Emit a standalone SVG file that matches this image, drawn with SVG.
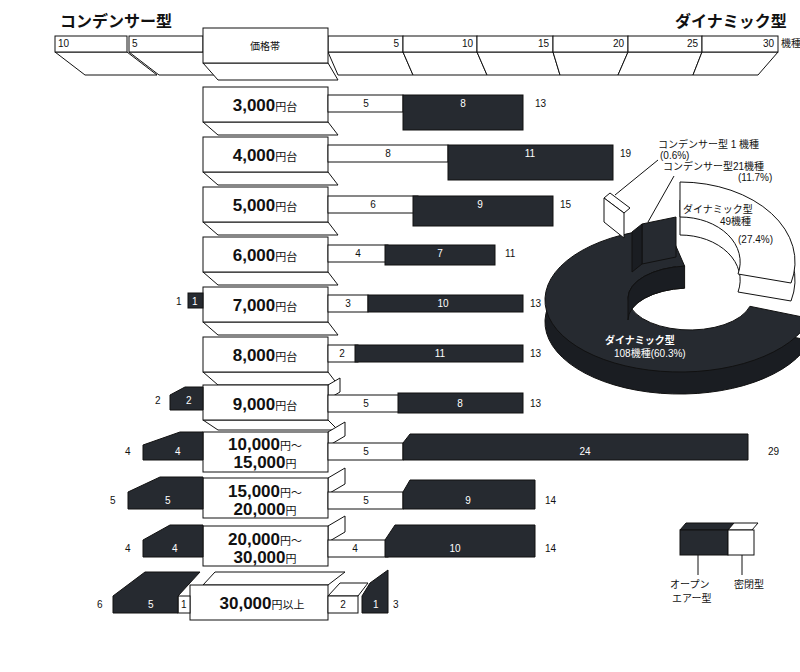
<svg xmlns="http://www.w3.org/2000/svg" width="800" height="672" viewBox="0 0 800 672">
<style>
.w{fill:#fff;stroke:#111;stroke-width:1}
.d{fill:#262a30;stroke:#111;stroke-width:1}
.ds{fill:#1a1d22;stroke:#111;stroke-width:1}
.t{font-family:"Liberation Sans","Noto Sans CJK JP",sans-serif;font-size:10px;fill:#111}
.tw{font-family:"Liberation Sans","Noto Sans CJK JP",sans-serif;font-size:10px;fill:#fff}
.big{font-family:"Liberation Sans","Noto Sans CJK JP",sans-serif;font-weight:bold;font-size:17px;fill:#111}
.sm{font-family:"Noto Sans CJK JP",sans-serif;font-size:11px;font-weight:normal}
.h{font-family:"Noto Sans CJK JP",sans-serif;font-weight:bold;font-size:16px;fill:#111}
.ln{stroke:#111;stroke-width:1;fill:none}
</style>
<rect width="800" height="672" fill="#fff"/>
<g id="titles">
<text x="60" y="27" class="h">コンデンサー型</text>
<text x="675" y="27" class="h">ダイナミック型</text>
</g>
<g id="axis">
<polygon class="w" points="55,52 127,52 157,75 85,75"/>
<rect class="w" x="55" y="36" width="72" height="16"/><text x="58" y="47" class="t">10</text>
<polygon class="w" points="129,52 203,52 233,75 159,75"/>
<rect class="w" x="129" y="36" width="74" height="16"/><text x="132" y="47" class="t">5</text>
<polygon class="w" points="328,52 403,52 413,75 338,75"/><rect class="w" x="328" y="36" width="75" height="16"/><text x="399" y="47" class="t" text-anchor="end">5</text>
<polygon class="w" points="403,52 477,52 487,75 413,75"/><rect class="w" x="403" y="36" width="74" height="16"/><text x="473" y="47" class="t" text-anchor="end">10</text>
<polygon class="w" points="477,52 553,52 560,75 487,75"/><rect class="w" x="477" y="36" width="76" height="16"/><text x="549" y="47" class="t" text-anchor="end">15</text>
<polygon class="w" points="553,52 628,52 618,75 560,75"/><rect class="w" x="553" y="36" width="75" height="16"/><text x="624" y="47" class="t" text-anchor="end">20</text>
<polygon class="w" points="628,52 702,52 693,75 618,75"/><rect class="w" x="628" y="36" width="74" height="16"/><text x="698" y="47" class="t" text-anchor="end">25</text>
<polygon class="w" points="702,52 778,52 758,75 693,75"/><rect class="w" x="702" y="36" width="76" height="16"/><text x="774" y="47" class="t" text-anchor="end">30</text>
<text x="781" y="47" class="t" font-size="7">機種</text>
<polygon class="w" points="203,63 328,63 338,80 218,80"/>
<rect class="w" x="203" y="28" width="125" height="35"/>
<text x="265" y="50" class="t" font-size="12" text-anchor="middle">価格帯</text>
</g>
<g id="connectors">
<line class="ln" x1="615" y1="195" x2="658" y2="160"/>
<line class="ln" x1="648" y1="222" x2="674" y2="176"/>
<line class="ln" x1="698" y1="555" x2="698" y2="575"/>
<line class="ln" x1="742" y1="555" x2="742" y2="575"/>
</g>
<g id="r1"><polygon class="w" points="203,122 328,122 338,135 218,135"/><rect class="w" x="203" y="87" width="125" height="35"/><text x="265" y="111" class="big" text-anchor="middle">3,000<tspan class="sm">円台</tspan></text>
<rect class="w" x="328" y="95" width="75" height="17"/><text x="366" y="107" class="t" text-anchor="middle">5</text>
<rect class="d" x="403" y="95" width="120" height="35"/><text x="463" y="107" class="tw" text-anchor="middle">8</text><text x="535" y="107" class="t">13</text></g>
<g id="r2"><polygon class="w" points="203,172 328,172 338,185 218,185"/><rect class="w" x="203" y="137" width="125" height="35"/><text x="265" y="161" class="big" text-anchor="middle">4,000<tspan class="sm">円台</tspan></text>
<rect class="w" x="328" y="145" width="120" height="17"/><text x="388" y="157" class="t" text-anchor="middle">8</text>
<rect class="d" x="448" y="145" width="165" height="35"/><text x="530" y="157" class="tw" text-anchor="middle">11</text><text x="620" y="157" class="t">19</text></g>
<g id="r3"><polygon class="w" points="203,222 328,222 338,235 218,235"/><rect class="w" x="203" y="187" width="125" height="35"/><text x="265" y="211" class="big" text-anchor="middle">5,000<tspan class="sm">円台</tspan></text>
<rect class="w" x="328" y="196" width="90" height="17"/><text x="373" y="208" class="t" text-anchor="middle">6</text>
<rect class="d" x="413" y="196" width="140" height="30"/><text x="480" y="208" class="tw" text-anchor="middle">9</text><text x="560" y="208" class="t">15</text></g>
<g id="r4"><polygon class="w" points="203,272 328,272 338,285 218,285"/><rect class="w" x="203" y="237" width="125" height="35"/><text x="265" y="261" class="big" text-anchor="middle">6,000<tspan class="sm">円台</tspan></text>
<rect class="w" x="328" y="245" width="60" height="17"/><text x="358" y="257" class="t" text-anchor="middle">4</text>
<rect class="d" x="385" y="245" width="110" height="20"/><text x="440" y="257" class="tw" text-anchor="middle">7</text><text x="505" y="257" class="t">11</text></g>
<g id="r5"><polygon class="w" points="203,322 328,322 338,335 218,335"/><rect class="w" x="203" y="287" width="125" height="35"/><text x="265" y="311" class="big" text-anchor="middle">7,000<tspan class="sm">円台</tspan></text>
<rect class="w" x="328" y="295" width="40" height="17"/><text x="348" y="307" class="t" text-anchor="middle">3</text>
<rect class="d" x="368" y="295" width="155" height="17"/><text x="443" y="307" class="tw" text-anchor="middle">10</text><text x="530" y="307" class="t">13</text>
<rect class="d" x="188" y="293" width="15" height="15"/><text x="192" y="305" class="tw">1</text><text x="176" y="305" class="t">1</text></g>
<g id="r6"><polygon class="w" points="203,372 328,372 338,385 218,385"/><rect class="w" x="203" y="337" width="125" height="35"/><text x="265" y="361" class="big" text-anchor="middle">8,000<tspan class="sm">円台</tspan></text>
<rect class="w" x="328" y="345" width="30" height="17"/><text x="342" y="357" class="t" text-anchor="middle">2</text>
<rect class="d" x="355" y="345" width="168" height="17"/><text x="440" y="357" class="tw" text-anchor="middle">11</text><text x="530" y="357" class="t">13</text></g>
<g id="r7"><polygon class="w" points="328,385 340,378 340,392 328,399"/><polygon class="w" points="203,420 328,420 338,430 218,430"/><rect class="w" x="203" y="385" width="125" height="35"/><text x="265" y="410" class="big" text-anchor="middle">9,000<tspan class="sm">円台</tspan></text>
<rect class="w" x="328" y="395" width="75" height="17"/><text x="366" y="407" class="t" text-anchor="middle">5</text>
<rect class="d" x="398" y="393" width="125" height="20"/><text x="460" y="407" class="tw" text-anchor="middle">8</text><text x="530" y="407" class="t">13</text>
<polygon class="d" points="170,395 185,387 203,387 203,410 170,410"/><text x="186" y="404" class="tw">2</text><text x="155" y="404" class="t">2</text></g>
<g id="r8"><polygon class="w" points="328,432 345,422 345,436 328,446"/><rect class="w" x="203" y="432" width="125" height="40"/><text x="265" y="450" class="big" text-anchor="middle">10,000<tspan class="sm">円～</tspan></text><text x="265" y="468" class="big" text-anchor="middle">15,000<tspan class="sm">円</tspan></text>
<rect class="w" x="328" y="443" width="75" height="17"/><text x="366" y="455" class="t" text-anchor="middle">5</text>
<polygon class="d" points="403,443 410,434 748,434 748,460 403,460"/><text x="585" y="455" class="tw" text-anchor="middle">24</text><text x="768" y="455" class="t">29</text>
<polygon class="d" points="143,445 180,432 203,432 203,460 143,460"/><text x="175" y="455" class="tw">4</text><text x="125" y="455" class="t">4</text></g>
<g id="r9"><polygon class="w" points="328,478 345,468 345,484 328,494"/><rect class="w" x="203" y="478" width="125" height="40"/><text x="265" y="497" class="big" text-anchor="middle">15,000<tspan class="sm">円～</tspan></text><text x="265" y="515" class="big" text-anchor="middle">20,000<tspan class="sm">円</tspan></text>
<rect class="w" x="328" y="492" width="75" height="17"/><text x="366" y="504" class="t" text-anchor="middle">5</text>
<polygon class="d" points="403,492 410,480 535,480 535,509 403,509"/><text x="468" y="504" class="tw" text-anchor="middle">9</text><text x="545" y="504" class="t">14</text>
<polygon class="d" points="128,492 160,477 203,477 203,509 128,509"/><text x="165" y="504" class="tw">5</text><text x="110" y="504" class="t">5</text></g>
<g id="r10"><polygon class="w" points="328,526 345,516 345,532 328,542"/><rect class="w" x="203" y="526" width="125" height="40"/><text x="265" y="545" class="big" text-anchor="middle">20,000<tspan class="sm">円～</tspan></text><text x="265" y="563" class="big" text-anchor="middle">30,000<tspan class="sm">円</tspan></text>
<rect class="w" x="328" y="540" width="60" height="17"/><text x="355" y="552" class="t" text-anchor="middle">4</text>
<polygon class="d" points="385,540 395,525 535,525 535,557 385,557"/><text x="455" y="552" class="tw" text-anchor="middle">10</text><text x="545" y="552" class="t">14</text>
<polygon class="d" points="143,540 170,525 203,525 203,557 143,557"/><text x="172" y="552" class="tw">4</text><text x="125" y="552" class="t">4</text></g>
<g id="r11"><polygon class="w" points="203,585 328,585 345,572 215,572"/><rect class="w" x="190" y="585" width="138" height="35"/><text x="262" y="609" class="big" text-anchor="middle">30,000<tspan class="sm">円以上</tspan></text>
<polygon class="w" points="328,596 358,596 368,583 340,583"/><rect class="w" x="328" y="596" width="30" height="17"/><text x="343" y="608" class="t" text-anchor="middle">2</text>
<polygon class="d" points="362,596 370,583 388,570 388,613 362,613"/><text x="373" y="608" class="tw">1</text><text x="393" y="608" class="t">3</text>
<rect class="w" x="178" y="596" width="12" height="17"/><text x="181" y="608" class="t">1</text>
<polygon class="d" points="113,596 145,572 200,572 178,596 178,613 113,613"/><text x="148" y="608" class="tw">5</text><text x="97" y="608" class="t">6</text></g>
<g id="pie">
<path class="ds" transform="translate(0,22)" d="M810.4,318.6 A135 72 0 1 1 668.2,228.3 L684.6,266.1 A62 32 0 1 0 749.9,306.3 Z"/>
<path class="d" d="M810.4,318.6 A135 72 0 1 1 668.2,228.3 L684.6,266.1 A62 32 0 1 0 749.9,306.3 Z"/>
<path class="ds" d="M628,298 A62 32 0 0 1 684.6,266.1 L684.6,288.1 A62 32 0 0 0 628,320 Z"/>
<path class="w" transform="translate(0,18)" d="M680,182 A115 80 0 0 1 791,283 L738,274 A60 45 0 0 0 680,217 Z"/>
<path class="w" d="M680,182 A115 80 0 0 1 791,283 L738,274 A60 45 0 0 0 680,217 Z"/>
<path class="d" d="M642,224 L676,217 L676,257 L642,264 Z"/>
<path class="ds" d="M632,232 L642,224 L642,264 L632,272 Z"/>
<path class="w" d="M604,198 L610,193 L630,208 L624,213 Z"/>
<path class="w" d="M604,198 L624,213 L624,238 L604,222 Z"/>
<text x="683" y="213" class="t" font-size="11">ダイナミック型</text>
<text x="720" y="225" class="t" font-size="11">49機種</text>
<text x="738" y="243" class="t" font-size="11">(27.4%)</text>
<text x="605" y="344" class="tw" font-size="11" font-weight="bold">ダイナミック型</text>
<text x="614" y="357" class="tw" font-size="11">108機種(60.3%)</text>
<text x="658" y="148" class="t" font-size="11">コンデンサー型 1 機種</text>
<text x="660" y="159" class="t" font-size="11">(0.6%)</text>
<text x="663" y="170" class="t" font-size="11">コンデンサー型21機種</text>
<text x="738" y="181" class="t" font-size="11">(11.7%)</text>
</g>
<g id="legend">
<polygon class="d" points="680,530 686,523 734,523 728,530"/>
<rect class="d" x="680" y="530" width="48" height="25"/>
<polygon class="w" points="728,530 734,523 758,523 752,530"/>
<rect class="w" x="728" y="530" width="26" height="25"/>
<text x="670" y="588" class="t">オープン</text>
<text x="672" y="602" class="t">エアー型</text>
<text x="734" y="588" class="t">密閉型</text>
</g>
</svg>
